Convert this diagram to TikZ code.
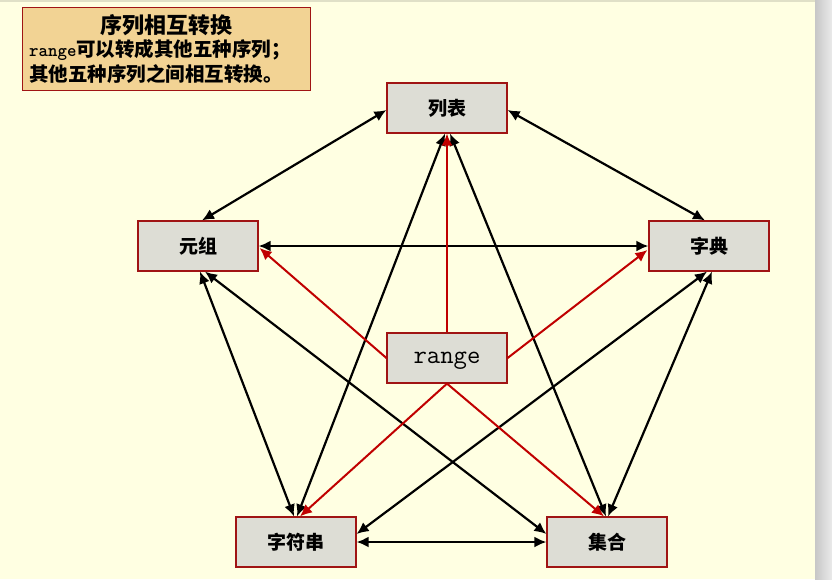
\documentclass[tikz,border=0pt]{standalone}
\usepackage{fontspec}
\usetikzlibrary{arrows.meta,calc}
\newfontfamily\cjk{Noto Sans CJK SC}
\definecolor{bgyel}{HTML}{FFFFE2}
\definecolor{nodefill}{HTML}{DDDDD5}
\definecolor{nodeedge}{HTML}{A01414}
\definecolor{titlefill}{HTML}{F2D394}
\definecolor{redline}{HTML}{C00000}
\tikzset{
  box/.style={draw=nodeedge, line width=1.2pt, fill=nodefill, minimum width=120pt, minimum height=50pt, inner sep=0pt, font=\cjk\bfseries\fontsize{19}{21}\selectfont},
  blk/.style={draw=black, line width=2.2pt, {Latex[length=12pt,width=11pt]}-{Latex[length=12pt,width=11pt]}},
  red/.style={draw=redline, line width=2pt, -{Latex[length=12pt,width=11pt]}},
}
\begin{document}
\begin{tikzpicture}[x=1pt,y=-1pt]
\useasboundingbox (0,0) rectangle (832,579);
\fill[bgyel] (0,0) rectangle (815,579);
\shade[left color=black!22, right color=black!8] (815,0) rectangle (832,579);
\draw[color=black!12!bgyel, line width=2pt] (0,1) -- (815,1);
% title
\node[draw=nodeedge, line width=1.2pt, fill=titlefill, minimum width=288pt, minimum height=83pt, anchor=north west, inner sep=0pt] (title) at (22,7) {};
\node[font=\cjk\bfseries\fontsize{22}{24}\selectfont] (t1) at (166,25) {序列相互转换};
\node[font=\cjk\bfseries\fontsize{19.5}{21}\selectfont, anchor=west, inner sep=0pt] (t2) at (29,50) {{\ttfamily\bfseries\fontsize{18}{20}\selectfont range}可以转成其他五种序列；};
\node[font=\cjk\bfseries\fontsize{19.5}{21}\selectfont, anchor=west, inner sep=0pt] (t3) at (29,74) {其他五种序列之间相互转换。};
% nodes
\node[box] (lb) at (447,108) {列表};
\node[box] (yz) at (198,246) {元组};
\node[box] (zd) at (709,246) {字典};
\node[box, font=\ttfamily\fontsize{26}{28}\selectfont, text depth=0pt] (rg) at (447,358) {range};
\node[box] (zf) at (296,542) {字符串};
\node[box] (jh) at (607,542) {集合};
% black double arrows
\draw[blk] ($(lb.west)+(0,2)$) -- ($(yz.north)+(4,0)$);
\draw[blk] ($(lb.east)+(0,2)$) -- ($(zd.north)+(-4,0)$);
\draw[blk] (yz.east) -- (zd.west);
\draw[blk] ($(yz.south)+(2,0)$) -- ($(zf.north)+(-2,0)$);
\draw[blk] ($(yz.south)+(7,0)$) -- ($(jh.west)+(0,-8)$);
\draw[blk] ($(zd.south)+(-2,0)$) -- ($(zf.east)+(0,-8)$);
\draw[blk] ($(zd.south)+(3,0)$) -- ($(jh.north)+(1,0)$);
\draw[blk] ($(lb.south)+(-2,0)$) -- ($(zf.north)+(1,0)$);
\draw[blk] ($(lb.south)+(3,0)$) -- ($(jh.north)+(-1,0)$);
\draw[blk] (zf.east) -- (jh.west);
% red arrows from range
\draw[red] (rg.north) -- (lb.south);
\draw[red] (rg.west) -- ($(yz.east)+(1,2)$);
\draw[red] (rg.east) -- ($(zd.west)+(-1,4)$);
\draw[red] (rg.south) -- ($(zf.north)+(4,0)$);
\draw[red] (rg.south) -- ($(jh.north)+(-3,0)$);
\end{tikzpicture}
\end{document}
